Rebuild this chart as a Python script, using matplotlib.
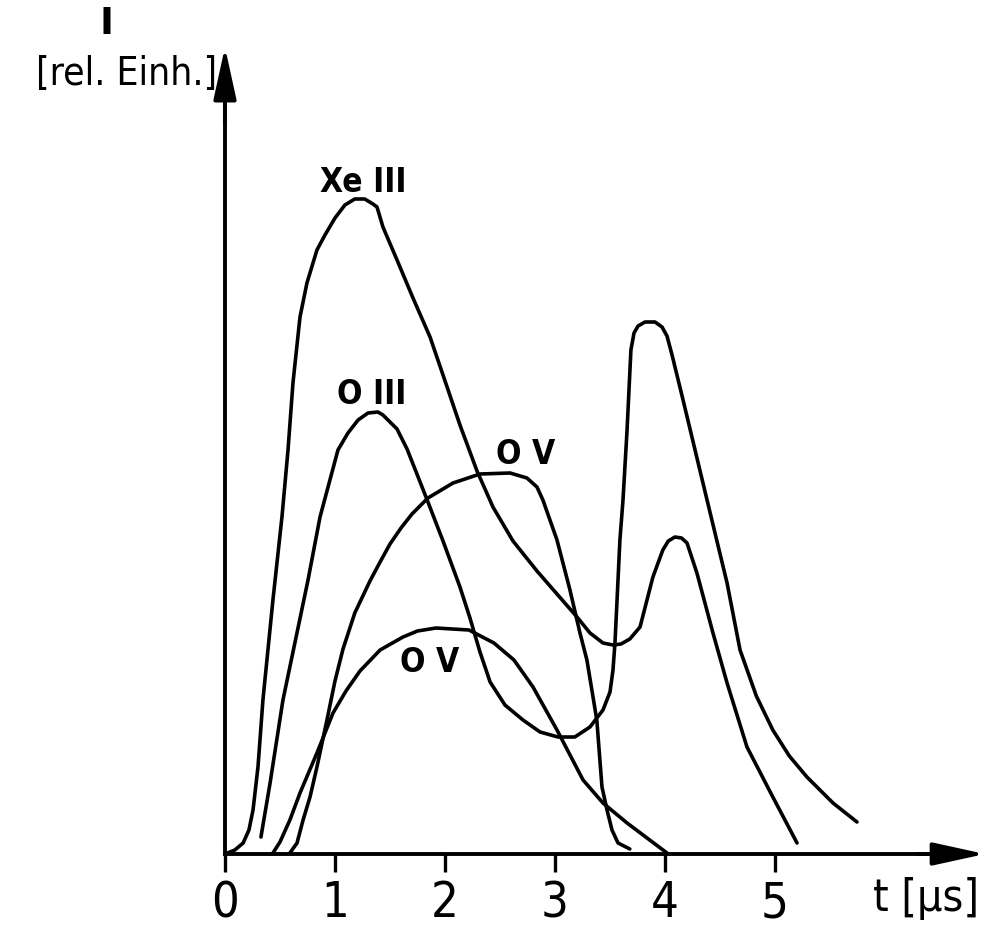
import matplotlib
matplotlib.use("Agg")
import matplotlib.pyplot as plt

FONT = ["DejaVu Sans"]

# time [us] and intensity [rel. units]
xe3_t = [0, 0.09, 0.165, 0.218, 0.255, 0.30, 0.345, 0.436, 0.518, 0.573, 0.618, 0.682, 0.745,
         0.836, 0.909, 1.0, 1.09, 1.18, 1.27, 1.345, 1.382, 1.436, 1.564, 1.709, 1.864,
         1.982, 2.136, 2.291, 2.436, 2.618, 2.836, 3.018, 3.2, 3.318, 3.436, 3.527, 3.60,
         3.68, 3.773, 3.89, 3.98, 4.03, 4.09, 4.15, 4.2, 4.29, 4.436, 4.564, 4.745, 4.98,
         5.2]
xe3_i = [0, 0.04, 0.11, 0.24, 0.44, 0.87, 1.54, 2.54, 3.37, 4.04, 4.71, 5.37, 5.71,
         6.04, 6.19, 6.36, 6.49, 6.55, 6.55, 6.50, 6.47, 6.27, 5.94, 5.56, 5.17,
         4.79, 4.29, 3.83, 3.47, 3.13, 2.83, 2.60, 2.37, 2.21, 2.11, 2.09, 2.10,
         2.15, 2.27, 2.77, 3.04, 3.13, 3.17, 3.16, 3.11, 2.81, 2.21, 1.71, 1.07, 0.57,
         0.11]

o3_t = [0.327, 0.41, 0.527, 0.755, 0.864, 1.027, 1.118, 1.21, 1.30, 1.39, 1.436, 1.564,
        1.655, 1.745, 1.845, 1.982, 2.136, 2.227, 2.318, 2.41, 2.545, 2.709, 2.864, 3.027,
        3.18, 3.318, 3.436, 3.5, 3.527, 3.545, 3.564, 3.59, 3.618, 3.655, 3.69, 3.718,
        3.755, 3.818, 3.909, 3.973, 4.018, 4.064, 4.164, 4.382, 4.564, 4.682, 4.83,
        4.98, 5.13, 5.29, 5.527, 5.745]
o3_i = [0.17, 0.71, 1.54, 2.74, 3.37, 4.04, 4.21, 4.34, 4.41, 4.42, 4.39, 4.25,
        4.05, 3.80, 3.52, 3.13, 2.67, 2.36, 2.02, 1.72, 1.49, 1.34, 1.22, 1.17,
        1.17, 1.27, 1.44, 1.62, 1.84, 2.11, 2.54, 3.14, 3.54, 4.24, 5.04, 5.21,
        5.28, 5.32, 5.32, 5.27, 5.18, 4.99, 4.54, 3.54, 2.71, 2.04, 1.58,
        1.24, 0.98, 0.77, 0.51, 0.32]

o5a_t = [0.59, 0.655, 0.71, 0.773, 0.836, 0.927, 1.0, 1.073, 1.18, 1.318, 1.41, 1.50,
         1.60, 1.70, 1.845, 2.073, 2.318, 2.591, 2.745, 2.836, 2.89, 3.018, 3.136, 3.227,
         3.29, 3.38, 3.427, 3.473, 3.518, 3.573, 3.68]
o5a_i = [0.01, 0.11, 0.34, 0.57, 0.87, 1.34, 1.73, 2.05, 2.41, 2.73, 2.92, 3.10,
         3.26, 3.40, 3.56, 3.71, 3.80, 3.81, 3.76, 3.67, 3.54, 3.14, 2.64, 2.21,
         1.94, 1.34, 0.67, 0.44, 0.24, 0.11, 0.05]

o5b_t = [0.436, 0.5, 0.59, 0.682, 0.836, 0.982, 1.10, 1.227, 1.41, 1.618, 1.75, 1.918,
         2.218, 2.445, 2.627, 2.8, 3.018, 3.255, 3.436, 3.655, 4.018]
o5b_i = [0.01, 0.12, 0.34, 0.61, 1.01, 1.41, 1.63, 1.83, 2.04, 2.17, 2.23, 2.26,
         2.24, 2.11, 1.94, 1.67, 1.24, 0.74, 0.51, 0.31, 0.01]

x_ticks = [0, 1, 2, 3, 4, 5]

fig = plt.figure(figsize=(9.89, 9.26), dpi=100, facecolor="white")
ax = fig.add_axes([0, 0, 1, 1])
ax.set_xlim(-2.045, 6.945)
ax.set_ylim(-0.72, 8.54)

line_kw = dict(color="black", linewidth=2.6, solid_joinstyle="round", solid_capstyle="round")
for t, i in [(xe3_t, xe3_i), (o3_t, o3_i), (o5a_t, o5a_i), (o5b_t, o5b_i)]:
    ax.plot(t, i, **line_kw)

# axes with arrow heads
for side in ("top", "right"):
    ax.spines[side].set_visible(False)
ax.spines["left"].set_position(("data", 0))
ax.spines["bottom"].set_position(("data", 0))
ax.spines["left"].set_bounds(0, 7.7)
ax.spines["bottom"].set_bounds(0, 6.6)
for side in ("left", "bottom"):
    ax.spines[side].set_linewidth(2.8)

arrow = dict(arrowstyle="-|>,head_length=1.6,head_width=0.35", color="black",
             lw=2.8, mutation_scale=20, shrinkA=0, shrinkB=0)
ax.annotate("", xy=(0, 8.07), xytext=(0, 7.3), arrowprops=arrow)
ax.annotate("", xy=(6.91, 0), xytext=(6.3, 0), arrowprops=arrow)

ax.set_yticks([])
ax.set_xticks(x_ticks)
ax.set_xticklabels([str(v) for v in x_ticks], family=FONT, fontstretch="condensed")
ax.tick_params(axis="x", direction="out", length=13, width=2.4, pad=5, labelsize=35)

# labels
ax.text(-1.08, 8.3, "I", family=FONT, fontsize=27, ha="center", va="center",
        fontweight="bold")
ax.text(-0.07, 7.8, "[rel. Einh.]", family=FONT, fontsize=28, ha="right", va="center",
        fontstretch="condensed")
ax.text(6.37, -0.45, "t [μs]", family=FONT, fontsize=32, ha="center", va="center",
        fontstretch="condensed")

lab = dict(family=FONT, fontsize=24, ha="center", va="center", fontweight="bold",
           fontstretch="condensed")
ax.text(1.255, 6.71, "Xe III", **lab)
ax.text(1.336, 4.59, "O III", **lab)
ax.text(2.73, 3.99, "O V", **lab)
ax.text(1.864, 1.91, "O V", **lab)

fig.savefig("out.png", dpi=100, facecolor="white")
